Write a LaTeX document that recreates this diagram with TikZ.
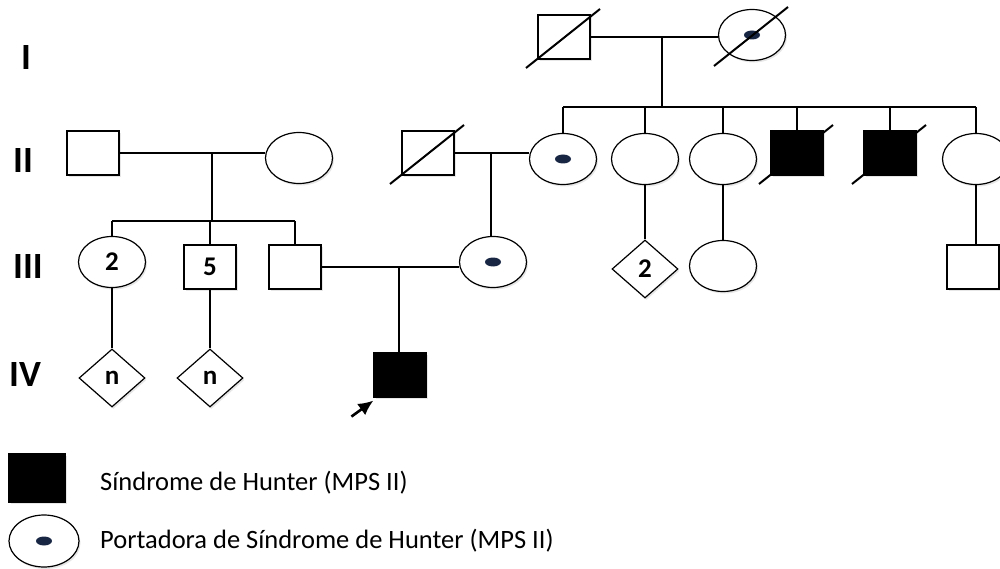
\documentclass[tikz,border=0pt]{standalone}
\usepackage{fontspec}
\setmainfont{Carlito}
\usetikzlibrary{shapes.geometric,calc,shadows,arrows.meta}
\definecolor{carrierblue}{RGB}{24,38,68}
\tikzset{
  ind/.style={draw, line width=1.2pt, fill=white, inner sep=0pt,
    font=\fontsize{27}{29}\selectfont\bfseries,
    drop shadow={shadow xshift=1.5pt, shadow yshift=-2pt, opacity=0.2}},
  male/.style={ind, rectangle, minimum width=52pt, minimum height=44pt},
  female/.style={ind, ellipse, minimum width=67pt, minimum height=51pt},
  unknown/.style={ind, diamond, minimum width=66pt, minimum height=58pt},
  affected/.style={fill=black},
  gen/.style={font=\fontsize{37}{40}\selectfont\bfseries},
  legendtext/.style={anchor=base west, inner sep=0pt, font=\fontsize{26.5}{28}\selectfont},
  line/.style={line width=1.9pt},
}
\newcommand{\carrier}[1]{\fill[carrierblue] (#1.center) ellipse (8pt and 4.5pt);}
\newcommand{\deceased}[1]{\draw[line width=2pt] ($(#1.center)+(-38,31)$) -- ($(#1.center)+(36,-28)$);}
\begin{document}
\begin{tikzpicture}[x=1pt, y=-1pt, >={Latex[length=15pt,width=14pt]}]
    \useasboundingbox (0,0) rectangle (1000,569);
    \node[gen] (gI) at (26,58) {I};
    \node[gen] (gII) at (23,161) {II};
    \node[gen] (gIII) at (28,267) {III};
    \node[gen] (gIV) at (25,375) {IV};

    \node[male] (I1) at (564,37) {};
    \node[female] (I2) at (752,35) {};
    \carrier{I2}
    \deceased{I1}
    \deceased{I2}
    \coordinate (c1) at (662,37);
    \coordinate (s1) at (662,107);
    \draw[line] (I1.east) -- (I1.east -| I2.west);
    \draw[line] (c1) -- (s1);

    \node[male] (II1) at (93,153) {};
    \node[female] (II2) at (299,158) {};
    \node[male] (II3) at (428,153) {};
    \node[female] (II4) at (563,159) {};
    \node[female] (II5) at (645,159) {};
    \node[female] (II6) at (723,159) {};
    \node[male, affected] (II7) at (797,153) {};
    \node[male, affected] (II8) at (890,153) {};
    \node[female] (II9) at (976,159) {};
    \carrier{II4}
    \deceased{II3}
    \deceased{II7}
    \deceased{II8}
    \draw[line] (II4.north |- s1) -- (II9.north |- s1);
    \foreach \n in {II4,II5,II6,II7,II8,II9}
      \draw[line] (\n.north |- s1) -- (\n.north);

    \coordinate (c2) at (212,153);
    \coordinate (s2) at (212,221);
    \coordinate (c3) at (491,153);
    \draw[line] (II1.east) -- (II1.east -| II2.west);
    \draw[line] (c2) -- (s2);
    \draw[line] (II3.east) -- (II3.east -| II4.west);

    \node[female] (III1) at (112,262) {2};
    \node[male] (III2) at (210,267) {5};
    \node[male] (III3) at (295,267) {};
    \node[female] (III4) at (493,262) {};
    \node[unknown] (III5) at (645,269) {2};
    \node[female] (III6) at (723,266) {};
    \node[male] (III7) at (973,267) {};
    \carrier{III4}
    \draw[line] (III1.north |- s2) -- (III3.north |- s2);
    \foreach \n in {III1,III2,III3}
      \draw[line] (\n.north |- s2) -- (\n.north);
    \draw[line] (c3) -- (c3 |- III4.north);
    \draw[line] (II5.south) -- (III5.north);
    \draw[line] (II6.south) -- (II6.south |- III6.north);
    \draw[line] (II9.south) -- (II9.south |- III7.north);

    \coordinate (c4) at (399,267);
    \draw[line] (III3.east) -- (III3.east -| III4.west);

    \node[unknown] (IV1) at (112,378) {n};
    \node[unknown] (IV2) at (210,378) {n};
    \node[male, affected] (IV3) at (400,375) {};
    \draw[line] (III1.south) -- (IV1.north);
    \draw[line] (III2.south) -- (IV2.north);
    \draw[line] (c4) -- (c4 |- IV3.north);
    \draw[->, line width=2.6pt] ($(IV3.south west)+(-22,19)$) -- ($(IV3.south west)+(0,3)$);

    \node[male, affected, minimum width=56pt, minimum height=48pt] (L1) at (37,478) {};
    \node[female, minimum width=70pt, minimum height=52pt] (L2) at (44,541) {};
    \carrier{L2}
    \node[legendtext] (t1) at (100,490) {Síndrome de Hunter (MPS II)};
    \node[legendtext] (t2) at (100,548) {Portadora de Síndrome de Hunter (MPS II)};
  \end{tikzpicture}
\end{document}
